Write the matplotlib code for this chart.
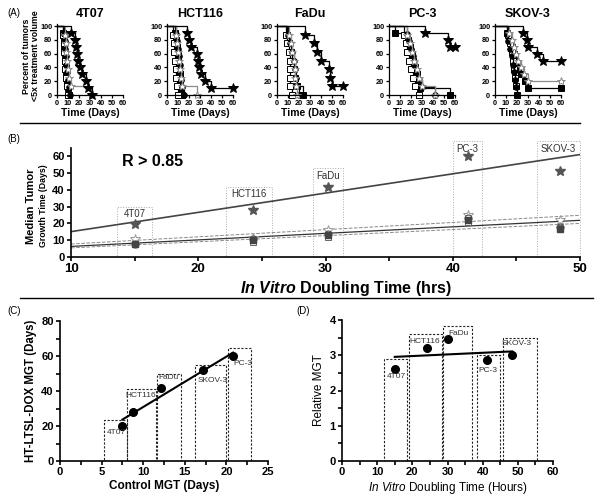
import numpy as np
import matplotlib.pyplot as plt
from matplotlib.lines import Line2D
from matplotlib.patches import Rectangle

plt.rcParams['font.family'] = ['Liberation Sans', 'DejaVu Sans']
plt.rcParams['mathtext.fontset'] = 'custom'
plt.rcParams['mathtext.it'] = 'Liberation Sans:italic'
plt.rcParams['mathtext.bfit'] = 'Liberation Sans:italic:bold'
plt.rcParams['mathtext.rm'] = 'Liberation Sans'

# ---------------- data ----------------
cell_lines = ['4T07', 'HCT116', 'FaDu', 'PC-3', 'SKOV-3']

# (A) Kaplan-Meier curves: (days, percent) per treatment group
km_4t07 = {
    'fsq':   ([0, 5, 6, 6, 7, 7, 8, 8, 9, 10, 11], [100, 90, 80, 70, 60, 50, 40, 30, 20, 10, 0]),
    'osq':   ([0, 5, 6, 6, 7, 7, 8, 9, 10], [100, 87.5, 75, 62.5, 50, 37.5, 25, 12.5, 0]),
    'fcirc': ([0, 6, 7, 7, 8, 8, 9, 10, 11, 12], [100, 89, 78, 67, 56, 44, 33, 22, 11, 0]),
    'ostar': ([0, 7, 8, 8, 9, 10, 11, 13, 31], [100, 87.5, 75, 62.5, 50, 37.5, 25, 12.5, 0]),
    'star':  ([0, 13, 16, 17, 18, 19, 21, 23, 26, 28, 32], [100, 90, 80, 70, 60, 50, 40, 30, 20, 10, 0]),
}
km_hct116 = {
    'fsq':   ([0, 7, 8, 9, 10, 10, 11, 12, 12, 13, 14], [100, 90, 80, 70, 60, 50, 40, 30, 20, 10, 0]),
    'osq':   ([0, 5, 6, 6, 7, 8, 8, 9, 10], [100, 87.5, 75, 62.5, 50, 37.5, 25, 12.5, 0]),
    'fcirc': ([0, 8, 9, 10, 11, 12, 12, 13, 14, 15], [100, 89, 78, 67, 56, 44, 33, 22, 11, 0]),
    'ostar': ([0, 8, 9, 10, 11, 12, 13, 14, 27], [100, 87.5, 75, 62.5, 50, 37.5, 25, 12.5, 0]),
    'star':  ([0, 18, 20, 22, 27, 28, 29, 31, 35, 40, 60], [100, 90, 80, 70, 60, 50, 40, 30, 20, 10, 10]),
}
km_fadu = {
    'fsq':   ([0, 9, 11, 13, 14, 15, 16, 18, 24], [100, 87.5, 75, 62.5, 50, 37.5, 25, 12.5, 0]),
    'osq':   ([0, 8, 9, 11, 12, 12, 12, 12, 14], [100, 87.5, 75, 62.5, 50, 37.5, 25, 12.5, 0]),
    'fcirc': ([0, 10, 12, 14, 15, 16, 17, 18, 20], [100, 87.5, 75, 62.5, 50, 37.5, 25, 12.5, 0]),
    'ostar': ([0, 11, 13, 14, 15, 16, 16, 17, 18], [100, 87.5, 75, 62.5, 50, 37.5, 25, 12.5, 0]),
    'star':  ([0, 25, 34, 36, 40, 47, 48, 50, 60], [100, 87.5, 75, 62.5, 50, 37.5, 25, 12.5, 12.5]),
}
km_pc3 = {
    'fsq':   ([0, 5, 17, 19, 21, 22, 24, 25, 27, 28, 55], [100, 90, 80, 70, 60, 50, 40, 30, 20, 10, 0]),
    'osq':   ([0, 14, 15, 16, 18, 20, 22, 24, 27], [100, 87.5, 75, 62.5, 50, 37.5, 25, 12.5, 0]),
    'fcirc': ([0, 16, 18, 20, 22, 23, 25, 27, 30, 42], [100, 89, 78, 67, 56, 44, 33, 22, 11, 0]),
    'ostar': ([0, 16, 19, 21, 23, 25, 27, 30, 42], [100, 87.5, 75, 62.5, 50, 37.5, 25, 12.5, 0]),
    'star':  ([0, 33, 54, 55, 60], [100, 90, 80, 70, 70]),
}
km_skov3 = {
    'fsq':   ([0, 11, 13, 15, 17, 18, 20, 24, 27, 30, 60], [100, 90, 80, 70, 60, 50, 40, 30, 20, 10, 10]),
    'osq':   ([0, 12, 14, 15, 16, 17, 18, 19, 20], [100, 87.5, 75, 62.5, 50, 37.5, 25, 12.5, 0]),
    'fcirc': ([0, 11, 12, 14, 15, 16, 17, 18, 19, 20], [100, 89, 78, 67, 56, 44, 33, 22, 11, 0]),
    'ostar': ([0, 13, 15, 17, 19, 21, 24, 26, 30, 60], [100, 90, 80, 70, 60, 50, 40, 30, 20, 20]),
    'star':  ([0, 25, 29, 30, 38, 44, 60], [100, 90, 80, 70, 60, 50, 50]),
}
km_all = [km_4t07, km_hct116, km_fadu, km_pc3, km_skov3]

# (B) median tumour growth time vs in vitro doubling time
doubling_hrs = [15.0, 24.3, 30.2, 41.2, 48.4]
mgt_star = [19.5, 28, 42, 60, 51.5]
mgt_ostar = [11, 11.5, 16, 25, 22]
mgt_circ = [8, 11, 14, 23, 18]
mgt_fsq = [7.5, 10, 13, 22, 16.5]
mgt_osq = [8, 9, 12, 21, 17]
b_box_x = [(13.6, 16.4), (22.2, 25.8), (29.0, 31.4), (40.0, 42.3), (46.6, 50.0)]
b_box_top = [30, 42, 53, 69, 69]

# (C) treated MGT vs control MGT
control_mgt = [7.5, 8.8, 12.1, 20.8, 17.2]
treated_mgt = [20, 28, 41.5, 60, 52]
c_box_x = [(5.3, 8.0), (8.0, 11.5), (11.7, 14.5), (20.2, 23.0), (16.2, 20.0)]
c_box_top = [23.5, 41, 50, 64.5, 55]
c_label_xy = [(6.8, 16), (9.7, 37.5), (13.0, 47.5), (22.0, 55.5), (18.3, 46)]

# (D) relative MGT vs doubling time
rel_mgt = [2.62, 3.2, 3.45, 2.87, 3.02]
d_box_x = [(11.9, 18.5), (19.0, 28.4), (28.8, 37.0), (38.4, 45.0), (45.8, 55.4)]
d_box_top = [2.9, 3.6, 3.83, 3.0, 3.49]
d_label_xy = [(15.6, 2.41), (23.6, 3.4), (33.0, 3.63), (41.5, 2.58), (49.7, 3.32)]

# ---------------- figure ----------------
W, H = 600, 503
fig = plt.figure(figsize=(W / 100, H / 100), dpi=100)


def px_axes(l, t, r, b):
    return fig.add_axes([l / W, 1 - b / H, (r - l) / W, (b - t) / H])


def prism(ax, fs, lw=1.0, bold=True):
    for s in ['top', 'right']:
        ax.spines[s].set_visible(False)
    for s in ['left', 'bottom']:
        ax.spines[s].set_linewidth(lw)
    ax.tick_params(direction='out', length=3, width=lw, labelsize=fs, pad=1.5)
    ax.tick_params(which='minor', direction='out', length=3, width=lw)
    if bold:
        for lab in ax.get_xticklabels() + ax.get_yticklabels():
            lab.set_fontweight('bold')


styles = {
    'fsq':   dict(marker='s', mfc='black', mec='black', ms=4.2, color='black'),
    'osq':   dict(marker='s', mfc='white', mec='black', ms=4.5, color='black'),
    'fcirc': dict(marker='o', mfc='black', mec='black', ms=4.0, color='black'),
    'ostar': dict(marker='*', mfc='white', mec='#8a8a8a', ms=6, color='#8a8a8a'),
    'star':  dict(marker='*', mfc='black', mec='black', ms=7, color='black'),
}

# ---- panel A ----
a_left = [57, 167, 277, 389, 495]
for i, (name, km) in enumerate(zip(cell_lines, km_all)):
    ax = px_axes(a_left[i], 24, a_left[i] + 66, 95)
    for key in ['fsq', 'osq', 'fcirc', 'ostar', 'star']:
        t, p = km[key]
        st = styles[key]
        ax.step(t, p, where='post', color=st['color'], lw=0.9, clip_on=False)
        ax.plot(t[1:], p[1:], ls='none', marker=st['marker'], mfc=st['mfc'],
                mec=st['mec'], ms=st['ms'], mew=0.7, clip_on=False)
    ax.set_xlim(0, 60)
    ax.set_ylim(0, 103)
    ax.set_xticks(range(0, 61, 10))
    ax.set_yticks(range(0, 101, 20))
    prism(ax, 5.3, lw=0.9)
    ax.tick_params(length=2)
    ax.set_title(name, fontsize=9, fontweight='bold', pad=5)
    ax.set_xlabel('Time (Days)', fontsize=7.5, fontweight='bold', labelpad=1)

fig.text(26.5 / W, 1 - 56 / H, 'Percent of tumors', rotation=90, fontsize=6.3,
         fontweight='bold', ha='center', va='center')
fig.text(35.5 / W, 1 - 56 / H, '<5x treatment volume', rotation=90, fontsize=6.3,
         fontweight='bold', ha='center', va='center')
fig.text(7 / W, 1 - 13 / H, '(A)', fontsize=7, va='center')
fig.add_artist(Line2D([20 / W, 580 / W], [1 - 123 / H] * 2, color='black', lw=1))

# ---- panel B ----
ax = px_axes(71, 148, 580, 257)
for j in range(5):
    x0, x1 = b_box_x[j]
    ax.add_patch(Rectangle((x0, 0), x1 - x0, b_box_top[j], fill=False,
                           ls=':', lw=0.7, ec='#aaaaaa', clip_on=False))
    ax.text((x0 + x1) / 2, b_box_top[j] - 4.5, cell_lines[j], ha='center',
            va='center', fontsize=7, color='#333333')

xx = np.array([10, 50])
fit_specs = [(mgt_star, '#444444', '-', 1.2), (mgt_ostar, '#888888', '--', 0.7),
             (mgt_circ, '#333333', '-', 0.9), (mgt_osq, '#888888', '--', 0.7)]
for ys, col, ls, lw in fit_specs:
    k, c = np.polyfit(doubling_hrs, ys, 1)
    ax.plot(xx, k * xx + c, color=col, ls=ls, lw=lw)

ax.plot(doubling_hrs, mgt_ostar, ls='none', marker='*', mfc='white', mec='#999999', ms=7, mew=0.7)
ax.plot(doubling_hrs, mgt_circ, ls='none', marker='o', mfc='white', mec='#444444', ms=5, mew=0.8)
ax.plot(doubling_hrs, mgt_osq, ls='none', marker='s', mfc='white', mec='#666666', ms=4.5, mew=0.7)
ax.plot(doubling_hrs, mgt_fsq, ls='none', marker='s', mfc='#444444', mec='#444444', ms=4.5)
ax.plot(doubling_hrs, mgt_star, ls='none', marker='*', mfc='#555555', mec='#555555', ms=7)

ax.set_xlim(10, 50)
ax.set_ylim(0, 65)
ax.set_xticks(range(10, 51, 10))
ax.set_xticks(range(15, 50, 10), minor=True)
ax.set_yticks(range(0, 61, 10))
prism(ax, 8, lw=1.2)
for lab in ax.get_xticklabels():
    lab.set_fontsize(9.5)
ax.text(14, 57, 'R > 0.85', fontsize=11.5, fontweight='bold', va='center')
ax.set_xlabel(r'$\mathbfit{In\ Vitro}$ Doubling Time (hrs)', fontsize=11.5,
              fontweight='bold')
ax.xaxis.set_label_coords(0.54, -0.2)
fig.text(31 / W, 1 - 206 / H, 'Median Tumor', rotation=90, fontsize=8,
         fontweight='bold', ha='center', va='center')
fig.text(43 / W, 1 - 206 / H, 'Growth Time (Days)', rotation=90, fontsize=6.3,
         fontweight='bold', ha='center', va='center')
fig.text(7 / W, 1 - 139 / H, '(B)', fontsize=7, va='center')
fig.add_artist(Line2D([20 / W, 593 / W], [1 - 298 / H] * 2, color='black', lw=1))

# ---- panel C ----
ax = px_axes(60, 321, 268, 461)
for j in range(5):
    x0, x1 = c_box_x[j]
    ax.add_patch(Rectangle((x0, 0), x1 - x0, c_box_top[j], fill=False,
                           ls=(0, (2, 1.5)), lw=0.8, ec='#222222'))
    ax.text(c_label_xy[j][0], c_label_xy[j][1], cell_lines[j], ha='center',
            va='center', fontsize=6, color='#333333')
k, c = np.polyfit(control_mgt, treated_mgt, 1)
xc = np.array([min(control_mgt), max(control_mgt)])
ax.plot(xc, k * xc + c, color='black', lw=1.5)
ax.plot(control_mgt, treated_mgt, ls='none', marker='o', color='black', ms=5.5)
ax.set_xlim(0, 25)
ax.set_ylim(0, 80)
ax.set_xticks(range(0, 26, 5))
ax.set_xticks(np.arange(2.5, 25, 5), minor=True)
ax.set_yticks(range(0, 81, 20))
ax.set_yticks(range(10, 80, 20), minor=True)
prism(ax, 8, lw=1.2)
ax.set_xlabel('Control MGT (Days)', fontsize=8.5, fontweight='bold', labelpad=2)
ax.set_ylabel('HT-LTSL-DOX MGT (Days)', fontsize=8.3, fontweight='bold', labelpad=3)
fig.text(7 / W, 1 - 311 / H, '(C)', fontsize=7, va='center')

# ---- panel D ----
ax = px_axes(342, 320, 553, 461)
for j in range(5):
    x0, x1 = d_box_x[j]
    ax.add_patch(Rectangle((x0, 0), x1 - x0, d_box_top[j], fill=False,
                           ls=(0, (2, 1.5)), lw=0.8, ec='#222222'))
    ax.text(d_label_xy[j][0], d_label_xy[j][1], cell_lines[j], ha='center',
            va='center', fontsize=6, color='#333333')
k, c = np.polyfit(doubling_hrs, rel_mgt, 1)
xd = np.array([min(doubling_hrs), max(doubling_hrs)])
ax.plot(xd, k * xd + c, color='black', lw=1.5)
ax.plot(doubling_hrs, rel_mgt, ls='none', marker='o', color='black', ms=5.5)
ax.set_xlim(0, 60)
ax.set_ylim(0, 4)
ax.set_xticks(range(0, 61, 10))
ax.set_xticks(range(5, 60, 10), minor=True)
ax.set_yticks(range(0, 5))
ax.set_yticks(np.arange(0.5, 4, 1), minor=True)
prism(ax, 8, lw=1.2)
ax.set_xlabel(r'$\mathit{In\ Vitro}$ Doubling Time (Hours)', fontsize=8.5, labelpad=2)
ax.set_ylabel('Relative MGT', fontsize=8.5, labelpad=3)
fig.text(296 / W, 1 - 311 / H, '(D)', fontsize=7, va='center')

fig.savefig('out.png', dpi=100)
